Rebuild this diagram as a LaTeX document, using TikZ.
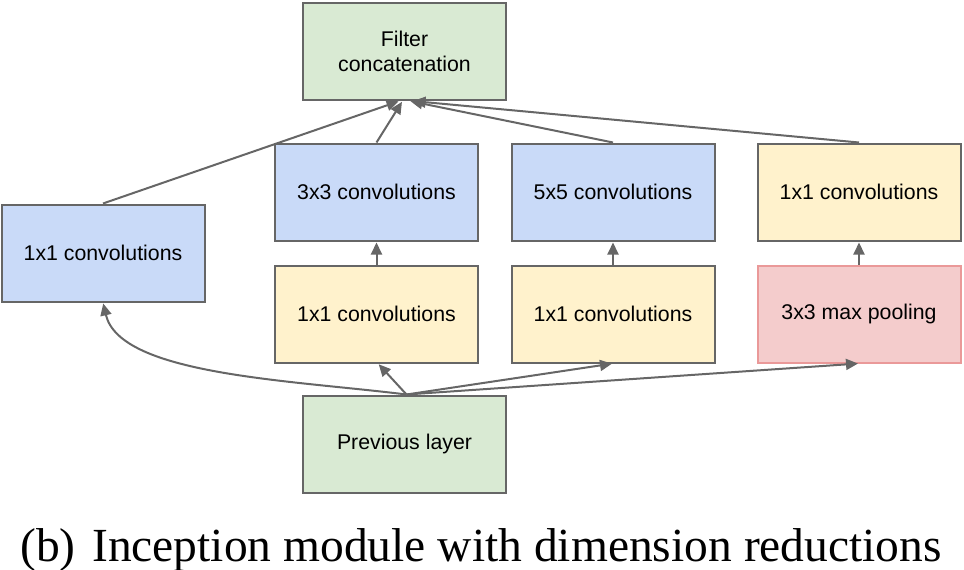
\documentclass[tikz,border=0pt]{standalone}
\usepackage{fontspec}
\setmainfont{Liberation Sans}
\newfontfamily\capfont{Liberation Serif}
\usetikzlibrary{arrows.meta}
\definecolor{edgegray}{HTML}{666666}
\definecolor{gfill}{HTML}{D9EAD3}
\definecolor{bfill}{HTML}{C9DAF8}
\definecolor{yfill}{HTML}{FFF2CC}
\definecolor{rfill}{HTML}{F4CCCC}
\definecolor{rdraw}{HTML}{EA9999}
\tikzset{
  box/.style={draw=edgegray, line width=2pt, rectangle, minimum width=203pt, minimum height=97pt,
    inner sep=0pt, align=center, font=\fontsize{21.3}{24.5}\selectfont},
  greenbox/.style={box, fill=gfill},
  bluebox/.style={box, fill=bfill},
  yellowbox/.style={box, fill=yfill},
  redbox/.style={box, fill=rfill, draw=rdraw},
  conn/.style={draw=edgegray, line width=2pt, -{Triangle[length=12pt,width=11pt]}, shorten >=1pt}
}
\begin{document}
\begin{tikzpicture}[x=1pt,y=-1pt]
\useasboundingbox (0,0) rectangle (964,570);
\node[greenbox] (fc) at (404.5,51.5) {Filter\\concatenation};
\node[bluebox] (c3) at (376.5,192) {3x3 convolutions};
\node[bluebox] (c5) at (613,192) {5x5 convolutions};
\node[yellowbox] (cr) at (859,192) {1x1 convolutions};
\node[bluebox] (cl) at (103,253) {1x1 convolutions};
\node[yellowbox] (y1) at (376.5,314) {1x1 convolutions};
\node[yellowbox] (y2) at (613,314) {1x1 convolutions};
\node[redbox] (mp) at (859,314) {3x3 max pooling};
\node[greenbox] (prev) at (404.5,444) {Previous layer};
\coordinate (src) at ([xshift=2pt]prev.north);
\draw[conn] (cl.north) -- ([xshift=-5pt]fc.south);
\draw[conn] (c3.north) -- ([xshift=-2pt]fc.south);
\draw[conn] (c5.north) -- ([xshift=5pt]fc.south);
\draw[conn] (cr.north) -- ([xshift=8pt]fc.south);
\draw[conn] (y1.north) -- (c3.south);
\draw[conn] (y2.north) -- (c5.south);
\draw[conn] (mp.north) -- (cr.south);
\draw[conn] (src) -- ([xshift=1.5pt]y1.south);
\draw[conn] (src) -- (y2.south);
\draw[conn] (src) -- (mp.south);
\draw[conn] (src) .. controls (290,380) and (120,375) .. (cl.south);
\node[anchor=base west, inner sep=0pt, font=\capfont\fontsize{47.5}{50}\selectfont] (cap) at (20,561)
  {(b)\hspace{0.35em}Inception module with dimension reductions};
\end{tikzpicture}
\end{document}
